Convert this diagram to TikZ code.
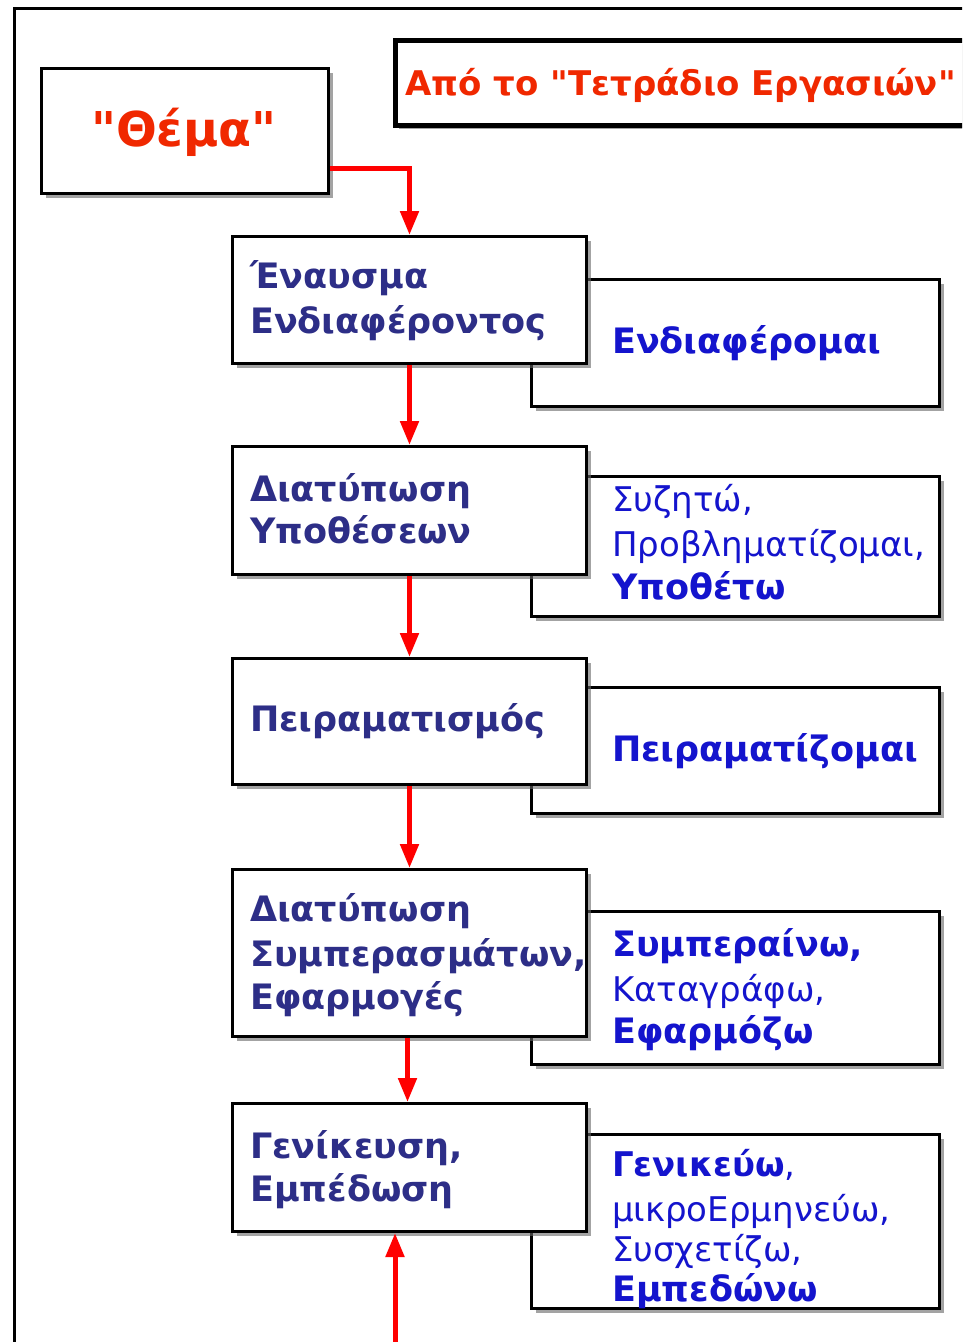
\documentclass[tikz,border=0pt]{standalone}
\usepackage{fontspec}
\setmainfont{DejaVu Sans}[Ligatures=TeXOff]
\usetikzlibrary{arrows.meta,shadows}
\definecolor{navy}{RGB}{45,46,135}
\definecolor{rblue}{RGB}{20,20,205}
\definecolor{tred}{RGB}{240,40,0}
\definecolor{ared}{RGB}{255,0,0}
\begin{document}
\begin{tikzpicture}[x=1pt,y=-1pt,
  box/.style={draw=black, line width=3pt, fill=white, anchor=north west, inner sep=0pt,
    drop shadow={shadow xshift=4pt, shadow yshift=-4pt, fill=black!60, opacity=0.6}},
  lbl/.style={font=\fontsize{35}{40}\selectfont\bfseries, text=navy, anchor=base west, inner sep=0pt},
  rbl/.style={font=\fontsize{34}{40}\selectfont, text=rblue, anchor=base west, inner sep=0pt},
  rbb/.style={rbl, font=\fontsize{35}{40}\selectfont\bfseries},
  arr/.style={draw=ared, line width=5pt, -{Triangle[width=18pt,length=24pt]}}
]
\clip (0,0) rectangle (962,1342);
\fill[white] (0,0) rectangle (962,1342);
\draw[line width=3pt] (14,8) rectangle (1100,1500);

% title box
\node[box, line width=4.5pt, minimum width=600pt, minimum height=85pt] (tb) at (393,38) {};
\node[font=\fontsize{34}{40}\selectfont\bfseries, text=tred, anchor=base west, inner sep=0pt] (tt) at (405,95) {Από το "Τετράδιο Εργασιών"};

% theme box
\node[box, minimum width=287pt, minimum height=125pt] (th) at (40,67) {};
\node[font=\fontsize{48}{50}\selectfont\bfseries, text=tred, anchor=base, inner sep=0pt] (tht) at (184,146) {"Θέμα"};

% right boxes
\node[box, minimum width=408pt, minimum height=127pt] (r1) at (530,278) {};
\node[box, minimum width=408pt, minimum height=140pt] (r2) at (530,475) {};
\node[box, minimum width=408pt, minimum height=126pt] (r3) at (530,686) {};
\node[box, minimum width=408pt, minimum height=153pt] (r4) at (530,910) {};
\node[box, minimum width=408pt, minimum height=174pt] (r5) at (530,1133) {};

% left boxes
\node[box, minimum width=354pt, minimum height=127pt] (b1) at (231,235) {};
\node[box, minimum width=354pt, minimum height=128pt] (b2) at (231,445) {};
\node[box, minimum width=354pt, minimum height=126pt] (b3) at (231,657) {};
\node[box, minimum width=354pt, minimum height=167pt] (b4) at (231,868) {};
\node[box, minimum width=354pt, minimum height=128pt] (b5) at (231,1102) {};

% left texts
\node[lbl] (b1a) at (250,288) {Έναυσμα};
\node[lbl] (b1b) at (250,333) {Ενδιαφέροντος};
\node[lbl] (b2a) at (250,501) {Διατύπωση};
\node[lbl] (b2b) at (250,543) {Υποθέσεων};
\node[lbl] (b3a) at (250,731) {Πειραματισμός};
\node[lbl] (b4a) at (250,921) {Διατύπωση};
\node[lbl] (b4b) at (250,966) {Συμπερασμάτων,};
\node[lbl] (b4c) at (250,1009) {Εφαρμογές};
\node[lbl] (b5a) at (250,1158) {Γενίκευση,};
\node[lbl] (b5b) at (250,1201) {Εμπέδωση};

% right texts
\node[rbb] (r1a) at (612,353) {Ενδιαφέρομαι};
\node[rbl] (r2a) at (612,511) {Συζητώ,};
\node[rbl] (r2b) at (612,556) {Προβληματίζομαι,};
\node[rbb] (r2c) at (612,599) {Υποθέτω};
\node[rbb] (r3a) at (612,761) {Πειραματίζομαι};
\node[rbb] (r4a) at (612,956) {Συμπεραίνω,};
\node[rbl] (r4b) at (612,1001) {Καταγράφω,};
\node[rbb] (r4c) at (612,1043) {Εφαρμόζω};
\node[rbl] (r5a) at (612,1176) {\textbf{Γενικεύω},};
\node[rbl] (r5b) at (612,1221) {μικροΕρμηνεύω,};
\node[rbl] (r5c) at (612,1261) {Συσχετίζω,};
\node[rbb] (r5d) at (612,1301) {Εμπεδώνω};

% arrows
\coordinate (bot) at (395,1360);
\draw[arr] ([yshift=27pt]th.south east) -| (b1.north);
\draw[arr] (b1.south) -- (b2.north);
\draw[arr] (b2.south) -- (b3.north);
\draw[arr] (b3.south) -- (b4.north);
\draw[arr] ([xshift=-2pt]b4.south) -- ([xshift=-2pt]b5.north);
\draw[arr] (bot) -- (bot |- b5.south);
\end{tikzpicture}
\end{document}
